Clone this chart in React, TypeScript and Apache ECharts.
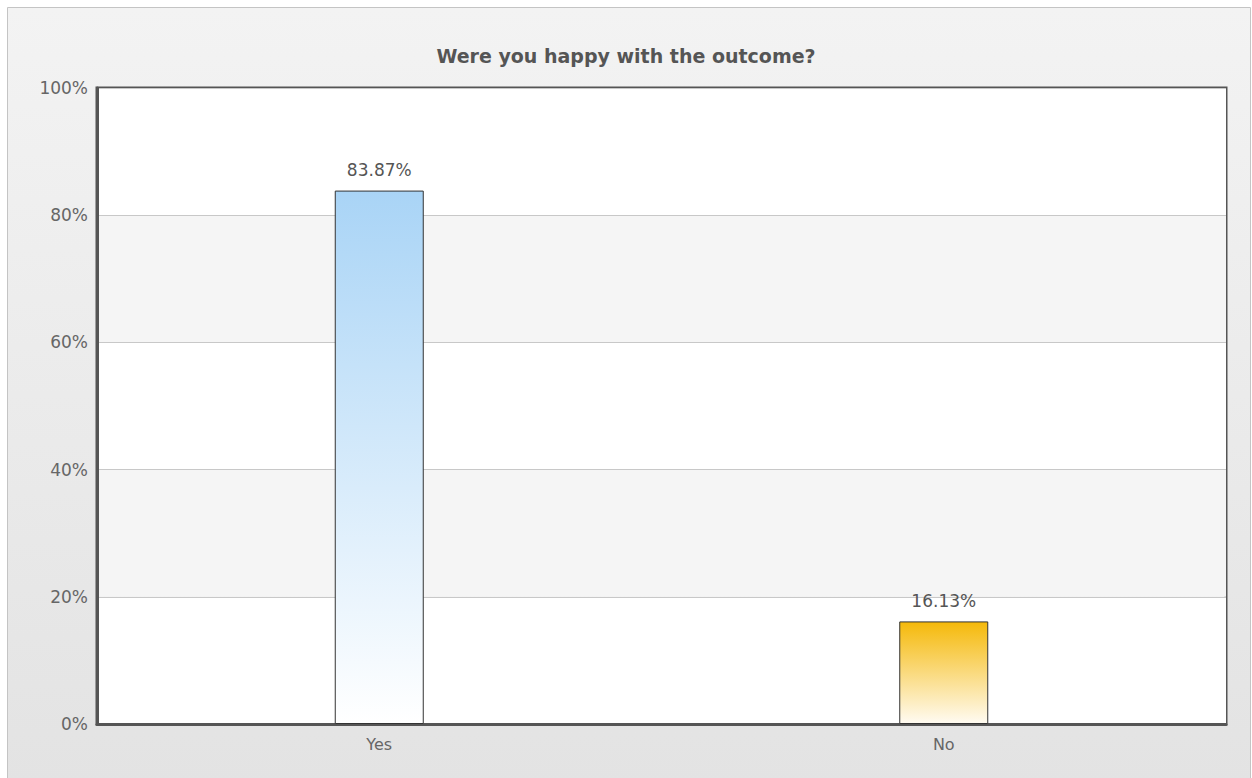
import React, { useEffect, useRef } from "react";
import * as echarts from "echarts";

const titleText = "Were you happy with the outcome?";
const categories = ["Yes", "No"];
const values = [83.87, 16.13];
const barTopColors = ["#a9d4f6", "#f5b90a"];
const barBottomColors = ["#ffffff", "#fffbf2"];
const yTicks = [0, 20, 40, 60, 80, 100];

export default function App() {
  const ref = useRef<HTMLDivElement>(null);
  useEffect(() => {
    document.body.style.margin = "0";
    const chart = echarts.init(ref.current!, null, { renderer: "svg" });
    chart.setOption({
      animation: false,
      backgroundColor: "#ffffff",
      graphic: [
        {
          type: "rect",
          z: -10,
          shape: { x: 7.5, y: 7.5, width: 1243, height: 775 },
          style: {
            fill: new echarts.graphic.LinearGradient(0, 0, 0, 1, [
              { offset: 0, color: "#f3f3f3" },
              { offset: 1, color: "#e3e3e3" },
            ]),
            stroke: "#c4c4c4",
            lineWidth: 1,
          },
        },
      ],
      title: {
        text: titleText,
        left: "center",
        top: 41,
        textStyle: {
          fontFamily: "DejaVu Sans",
          fontSize: 19,
          fontWeight: "bold",
          color: "#555555",
        },
      },
      grid: {
        left: 97,
        top: 88,
        right: 26,
        bottom: 54,
        show: true,
        backgroundColor: "transparent",
        borderColor: "#555555",
        borderWidth: 3,
      },
      xAxis: {
        type: "category",
        data: categories,
        axisLine: { show: true, lineStyle: { color: "#555555", width: 3 } },
        axisTick: { show: false },
        axisLabel: {
          color: "#666666",
          fontFamily: "DejaVu Sans",
          fontSize: 16,
          margin: 12,
        },
        splitLine: { show: false },
      },
      yAxis: {
        type: "value",
        min: yTicks[0],
        max: yTicks[yTicks.length - 1],
        interval: 20,
        axisLine: { show: true, lineStyle: { color: "#555555", width: 3 } },
        axisTick: { show: false },
        axisLabel: {
          color: "#666666",
          fontFamily: "DejaVu Sans",
          fontSize: 17,
          margin: 9,
          formatter: (v: number) => v + "%",
        },
        splitLine: { show: true, lineStyle: { color: "#c8c8c8", width: 1 } },
        splitArea: {
          show: true,
          areaStyle: { color: ["#ffffff", "#f5f5f5"] },
        },
      },
      series: [
        {
          type: "bar",
          barWidth: 89,
          data: values.map((v, i) => ({
            value: v,
            itemStyle: {
              color: new echarts.graphic.LinearGradient(0, 0, 0, 1, [
                { offset: 0, color: barTopColors[i] },
                { offset: 1, color: barBottomColors[i] },
              ]),
              borderColor: "#333333",
              borderWidth: 1,
            },
          })),
          label: {
            show: true,
            position: "top",
            distance: 12,
            color: "#555555",
            fontFamily: "DejaVu Sans",
            fontSize: 17,
            formatter: (p: any) => p.value.toFixed(2) + "%",
          },
        },
      ],
    });
    return () => chart.dispose();
  }, []);
  return <div ref={ref} style={{ width: 1252, height: 778 }} />;
}
